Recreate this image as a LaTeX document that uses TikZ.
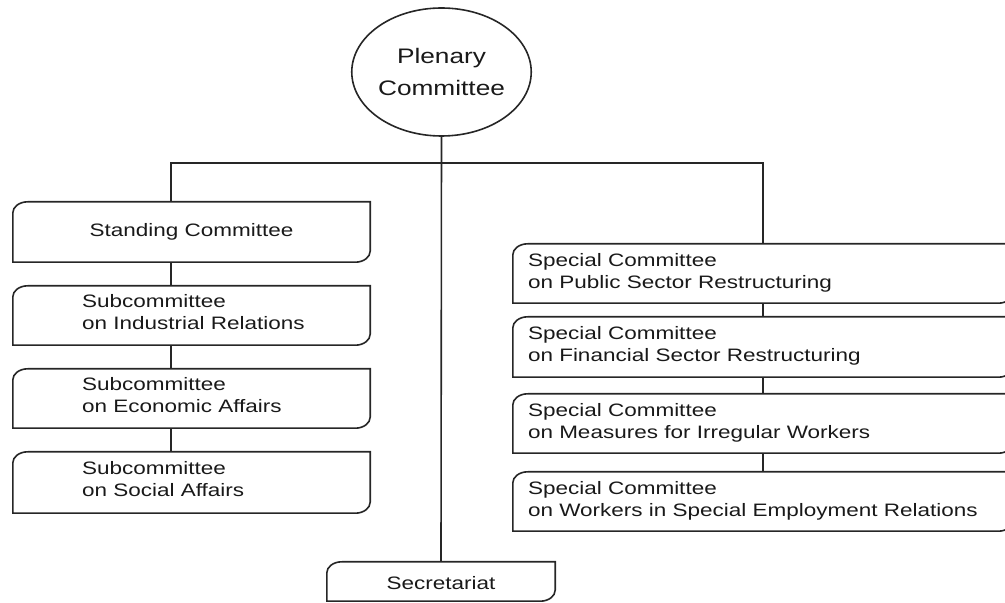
\documentclass[tikz,border=0pt]{standalone}
\usepackage{fontspec}
\setmainfont{Liberation Sans}[FakeStretch=1.25]
\usetikzlibrary{calc,shapes.geometric}
\begin{document}
\begin{tikzpicture}[x=1pt,y=1pt,
  lin/.style={line width=1.6pt, draw=black!85},
  boxn/.style={rectangle, draw=none, inner sep=0pt},
  lbox/.style={boxn, minimum width=357pt, minimum height=#1},
  rbox/.style={boxn, minimum width=500pt, minimum height=#1},
  txt/.style={font=\fontsize{18}{22}\selectfont, text=black!90, inner sep=0pt, align=left},
  ctxt/.style={font=\fontsize{18}{22}\selectfont, text=black!90, inner sep=0pt, align=center}
]
\useasboundingbox (0,0) rectangle (1005,603);

% Plenary committee
\node[ellipse, lin, minimum width=173pt, minimum height=128pt, inner sep=0pt,
      font=\fontsize{21}{32}\selectfont, align=center, text=black!90] (pl) at (441.5,531) {Plenary\\Committee};

% left column
\node[lbox=60pt] (st) at (191.5,371) {};
\node[lbox=59pt] (s1) at (191.5,287.5) {};
\node[lbox=59pt] (s2) at (191.5,204.5) {};
\node[lbox=61pt] (s3) at (191.5,120.5) {};

% right column
\node[rbox=59pt] (r1) at (763,329.5) {};
\node[rbox=60pt] (r2) at (763,256) {};
\node[rbox=59pt] (r3) at (763,179.5) {};
\node[rbox=59pt] (r4) at (763,101.5) {};

% secretariat
\node[boxn, minimum width=228pt, minimum height=39pt] (sec) at (441,21.5) {};

\foreach \n in {st,s1,s2,s3,r1,r2,r3,r4,sec}{
  \draw[lin] ($(\n.north west)+(15,0)$) -- (\n.north east) -- ($(\n.south east)+(0,11)$)
    arc[start angle=0,end angle=-90,x radius=15,y radius=11] -- (\n.south west)
    -- ($(\n.north west)+(0,-11)$) arc[start angle=180,end angle=90,x radius=15,y radius=11] -- cycle;
}

% texts
\node[ctxt] (tst) at (st.center) {Standing Committee};
\node[txt, anchor=west] (ts1) at ($(s1.west)+(69,3)$) {Subcommittee\\on Industrial Relations};
\node[txt, anchor=west] (ts2) at ($(s2.west)+(69,3)$) {Subcommittee\\on Economic Affairs};
\node[txt, anchor=west] (ts3) at ($(s3.west)+(69,3)$) {Subcommittee\\on Social Affairs};
\node[txt, anchor=west] (tr1) at ($(r1.west)+(15,1)$) {Special Committee\\on Public Sector Restructuring};
\node[txt, anchor=west] (tr2) at ($(r2.west)+(15,1)$) {Special Committee\\on Financial Sector Restructuring};
\node[txt, anchor=west] (tr3) at ($(r3.west)+(15,1)$) {Special Committee\\on Measures for Irregular Workers};
\node[txt, anchor=west] (tr4) at ($(r4.west)+(15,1)$) {Special Committee\\on Workers in Special Employment Relations};
\node[ctxt] (tsec) at ($(sec.center)+(0,-2)$) {Secretariat};

% connectors
\coordinate (bus) at (441.5,440);
\draw[lin] (pl.south) -- (sec.north);
\draw[lin] ([xshift=-20.5pt]st.north) |- (bus) -| (r1.north);
\draw[lin] ([xshift=-20.5pt]st.south) -- ([xshift=-20.5pt]s1.north);
\draw[lin] ([xshift=-20.5pt]s1.south) -- ([xshift=-20.5pt]s2.north);
\draw[lin] ([xshift=-20.5pt]s2.south) -- ([xshift=-20.5pt]s3.north);
\draw[lin] (r1.south) -- (r2.north);
\draw[lin] (r2.south) -- (r3.north);
\draw[lin] (r3.south) -- (r4.north);
\end{tikzpicture}
\end{document}
